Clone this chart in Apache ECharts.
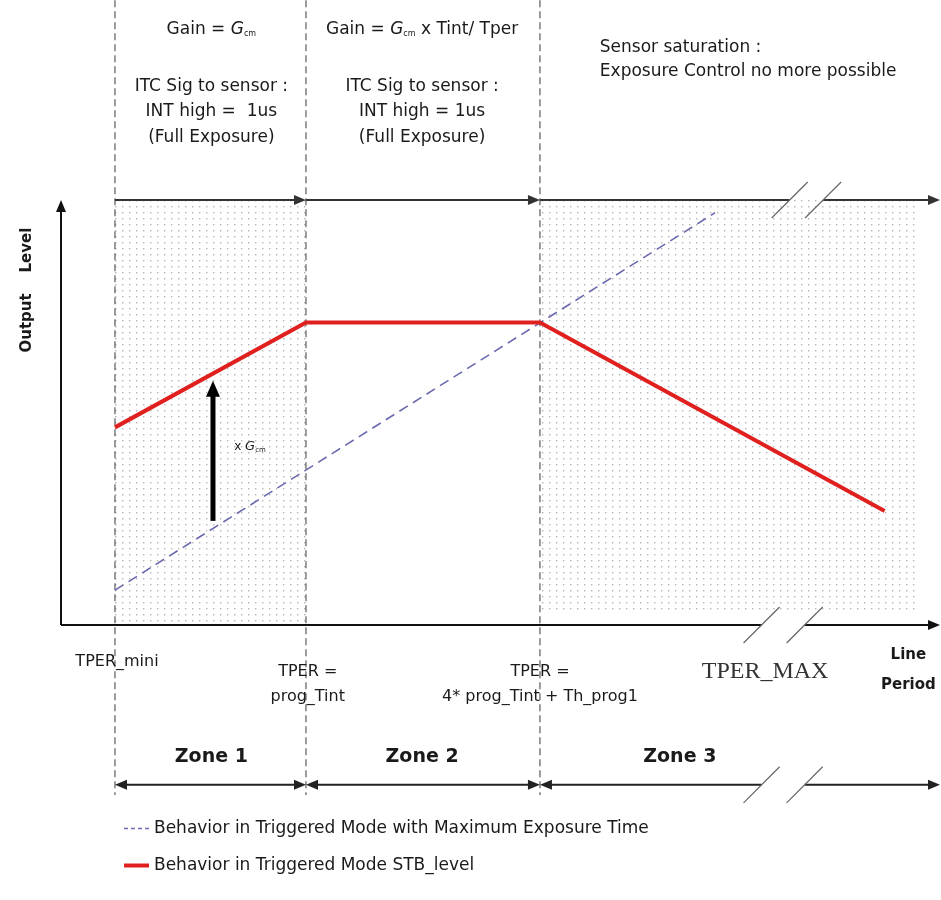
<!DOCTYPE html>
<html>
<head>
<meta charset="utf-8">
<script src="https://cdn.jsdelivr.net/npm/echarts@6/dist/echarts.min.js"></script>
<style>html,body{margin:0;padding:0;background:#fff}#c{width:941px;height:900px}</style>
</head>
<body>
<div id="c"></div>
<script>
// ---- Data (x: line period, % of axis; y: output level, % of axis) ----
const zoneBounds = [6.14, 27.87, 54.49];           // TPER_mini, prog_Tint, 4*prog_Tint+Th_prog1
const stbLevel = [[6.14, 46.5], [27.87, 71.2], [54.49, 71.2], [93.7, 26.8]];
const maxExposure = [[6.14, 8.2], [74.4, 97]];
const gainArrow = [17.29, 24.5, 17.29, 57.5];
const zoneNames = ['Zone 1', 'Zone 2', 'Zone 3'];
const seriesNames = ['Behavior in Triggered Mode with Maximum Exposure Time', 'Behavior in Triggered Mode STB_level'];
const tickLabels = ['TPER_mini', 'TPER =\nprog_Tint', 'TPER =\n4* prog_Tint + Th_prog1', 'TPER_MAX'];
const axisNames = ['Output    Level', 'Line\nPeriod'];
const zoneNotes = [
  ['{t|Gain = }{g|G}{s|cm}', '', 'ITC Sig to sensor :', 'INT high =  1us', '(Full Exposure)'],
  ['{t|Gain = }{g|G}{s|cm}{t| x Tint/ Tper}', '', 'ITC Sig to sensor :', 'INT high = 1us', '(Full Exposure)'],
  ['Sensor saturation :', 'Exposure Control no more possible']
];
const gainNote = '{t|x }{g|G}{s|cm}';
const breakX = [79.7, 84.6];      // break in the line-period axis
const breakXTop = [82.9, 86.7];

// ---- layout helpers ----
const TOP = 100, AXIS = 0, ZONE_ROW = -37.6, TEXT_TOP = 147, LINE_BOTTOM = -40;
const FONT = '"DejaVu Sans", sans-serif';
const FS = 17;

const chart = echarts.init(document.getElementById('c'), null, {renderer: 'canvas'});

// dotted pattern
const pc = document.createElement('canvas');
pc.width = 7; pc.height = 6;
const pctx = pc.getContext('2d');
pctx.fillStyle = '#b4b4b4';
pctx.fillRect(3, 2, 1.4, 1.4);
const dotPattern = {image: pc, repeat: 'repeat'};

function head(from, to, len, w, color) {
  const dx = to[0] - from[0], dy = to[1] - from[1];
  const L = Math.hypot(dx, dy) || 1, ux = dx / L, uy = dy / L;
  const bx = to[0] - ux * len, by = to[1] - uy * len;
  return {type: 'polygon', shape: {points: [[to[0], to[1]], [bx - uy * w, by + ux * w], [bx + uy * w, by - ux * w]]},
    style: {fill: color}};
}
function segSeries(name, data, o) {
  return {
    type: 'custom', name: name, coordinateSystem: 'cartesian2d', clip: false, silent: true, z: o.z || 3,
    encode: {x: [0, 2], y: [1, 3]},
    data: data,
    renderItem: function (params, api) {
      let p1 = api.coord([api.value(0), api.value(1)]);
      let p2 = api.coord([api.value(2), api.value(3)]);
      const hs = o.start && (o.start === true || o.start(params.dataIndex));
      const he = o.end && (o.end === true || o.end(params.dataIndex));
      const dx = p2[0] - p1[0], dy = p2[1] - p1[1], L = Math.hypot(dx, dy) || 1;
      const a = hs ? [p1[0] + dx / L * (o.hl - 2), p1[1] + dy / L * (o.hl - 2)] : p1;
      const b = he ? [p2[0] - dx / L * (o.hl - 2), p2[1] - dy / L * (o.hl - 2)] : p2;
      const ch = [{type: 'line', shape: {x1: a[0], y1: a[1], x2: b[0], y2: b[1]},
        style: {stroke: o.color, lineWidth: o.width, lineDash: o.dash || null}}];
      if (he) ch.push(head(p1, p2, o.hl, o.hw, o.color));
      if (hs) ch.push(head(p2, p1, o.hl, o.hw, o.color));
      return {type: 'group', children: ch};
    }
  };
}

// geometry built from data
const [b0, b1, b2] = zoneBounds;
const shadeRects = [[b0, AXIS, b1, TOP], [b2, 3, 97.5, TOP]];
const vLines = zoneBounds.map(x => [x, TEXT_TOP, x, LINE_BOTTOM]);
const topArrows = [[b0, TOP, b1, TOP], [b1, TOP, b2, TOP], [b2, TOP, breakXTop[0], TOP], [breakXTop[1], TOP, 100, TOP]];
const zoneArrows = [[b0, ZONE_ROW, b1, ZONE_ROW], [b1, ZONE_ROW, b2, ZONE_ROW], [b2, ZONE_ROW, breakX[0], ZONE_ROW], [breakX[1], ZONE_ROW, 100, ZONE_ROW]];
const axes = [[0, AXIS, 0, TOP], [0, AXIS, breakX[0], AXIS], [breakX[1], AXIS, 100, AXIS]];
const bdx = 2.05, bdy = 4.24;
const breaks = [];
breakX.forEach(x => { breaks.push([x - bdx, AXIS - bdy, x + bdx, AXIS + bdy]); breaks.push([x - bdx, ZONE_ROW - bdy, x + bdx, ZONE_ROW + bdy]); });
breakXTop.forEach(x => breaks.push([x - bdx, TOP - bdy, x + bdx, TOP + bdy]));

// annotations (text anchored in data space)
const zc = [(b0 + b1) / 2 + 0.1, (b1 + b2) / 2 - 0.1];
const notes = [];
const gRich = {
  t: {fontFamily: FONT, fontSize: FS, color: '#1a1a1a'},
  g: {fontFamily: FONT, fontSize: FS, fontStyle: 'italic', color: '#1a1a1a'},
  s: {fontFamily: FONT, fontSize: 8, color: '#1a1a1a', padding: [8, 0, 0, 0]}
};
[0, 1].forEach(i => {
  notes.push({x: zc[i], y: 140, text: zoneNotes[i][0], rich: gRich});
  notes.push({x: zc[i], y: 126.6, text: zoneNotes[i][2]});
  notes.push({x: zc[i], y: 120.7, text: zoneNotes[i][3]});
  notes.push({x: zc[i], y: 114.8, text: zoneNotes[i][4]});
});
notes.push({x: 61.3, y: 135.8, text: zoneNotes[2][0], align: 'left'});
notes.push({x: 61.3, y: 130.1, text: zoneNotes[2][1], align: 'left'});
notes.push({x: 21.5, y: 41.9, text: gainNote, rich: {
  t: {fontFamily: FONT, fontSize: 12, color: '#222'}, g: {fontFamily: FONT, fontSize: 13, fontStyle: 'italic', color: '#222'},
  s: {fontFamily: FONT, fontSize: 7, color: '#222', padding: [6, 0, 0, 0]}}});
notes.push({x: -3.87, y: 78.8, text: axisNames[0], bold: true, size: 15, rot: Math.PI / 2});
notes.push({x: 6.37, y: -8.7, text: tickLabels[0], size: 16});
notes.push({x: b1 + 0.2, y: -14, text: tickLabels[1], size: 16, lh: 25});
notes.push({x: b2, y: -14, text: tickLabels[2], size: 16, lh: 25});
notes.push({x: 80.1, y: -11.1, text: tickLabels[3], serif: true, size: 24});
notes.push({x: 96.4, y: -10.6, text: axisNames[1], bold: true, size: 15, lh: 30});
const zoneTextX = [(b0 + b1) / 2 + 0.1, (b1 + b2) / 2 - 0.1, 70.4];
zoneNames.forEach((z, i) => notes.push({x: zoneTextX[i], y: -31.1, text: z, bold: true, size: 19}));

const textSeries = {
  type: 'custom', coordinateSystem: 'cartesian2d', clip: false, silent: true, z: 10,
  data: notes.map(n => [n.x, n.y]),
  renderItem: function (params, api) {
    const n = notes[params.dataIndex];
    const p = api.coord([n.x, n.y]);
    const st = {
      text: n.text, textAlign: n.align || 'center', textVerticalAlign: 'middle',
      fontFamily: n.serif ? '"Liberation Serif", serif' : FONT,
      fontSize: n.size || FS, fontWeight: n.bold ? 'bold' : 'normal', fill: n.serif ? '#333' : '#1a1a1a',
      lineHeight: n.lh || 22
    };
    if (n.rich) st.rich = n.rich;
    return {type: 'text', x: p[0], y: p[1], rotation: n.rot || 0, style: st};
  }
};

const option = {
  animation: false,
  backgroundColor: '#fff',
  grid: {left: 61, right: 1, top: 200, bottom: 275},
  xAxis: {type: 'value', min: 0, max: 100, show: false},
  yAxis: {type: 'value', min: 0, max: 100, show: false},
  legend: {
    orient: 'vertical', left: 117, top: 815, itemGap: 20, itemWidth: 25, itemHeight: 20,
    data: [
      {name: seriesNames[0], lineStyle: {width: 1.6, type: [4, 3]}},
      {name: seriesNames[1], lineStyle: {width: 4}}
    ],
    itemStyle: {opacity: 0},
    textStyle: {fontFamily: FONT, fontSize: FS, color: '#1a1a1a'}
  },
  series: [
    {type: 'custom', coordinateSystem: 'cartesian2d', clip: false, silent: true, z: 1,
      encode: {x: [0, 2], y: [1, 3]}, data: shadeRects,
      renderItem: function (params, api) {
        const p1 = api.coord([api.value(0), api.value(1)]);
        const p2 = api.coord([api.value(2), api.value(3)]);
        return {type: 'rect', shape: {x: Math.min(p1[0], p2[0]), y: Math.min(p1[1], p2[1]),
          width: Math.abs(p2[0] - p1[0]), height: Math.abs(p2[1] - p1[1])}, style: {fill: dotPattern}};
      }},
    segSeries('vlines', vLines, {color: '#3a3a3a', width: 1, dash: [7, 4], z: 2}),
    segSeries('topArrows', topArrows, {color: '#333', width: 2, end: i => i !== 2, hl: 12, hw: 5}),
    segSeries('zoneArrows', zoneArrows, {color: '#222', width: 2, start: i => i !== 3, end: i => i !== 2, hl: 12, hw: 5}),
    segSeries('axes', axes, {color: '#111', width: 2, end: i => i !== 1, hl: 12, hw: 5}),
    segSeries('breaks', breaks, {color: '#666', width: 1.2}),
    {
      type: 'line', name: seriesNames[0], data: maxExposure, symbol: 'none', z: 4,
      lineStyle: {color: '#6a6ab0', width: 1.6, type: [10, 6]}, itemStyle: {color: '#6a6ab0'}
    },
    {
      type: 'line', name: seriesNames[1], data: stbLevel, symbol: 'none', z: 5,
      lineStyle: {color: '#e0201e', width: 4}, itemStyle: {color: '#e0201e'}
    },
    segSeries('gain', [gainArrow], {color: '#000', width: 5, end: true, hl: 16, hw: 7, z: 6}),
    textSeries
  ]
};
chart.setOption(option);
</script>
</body>
</html>
